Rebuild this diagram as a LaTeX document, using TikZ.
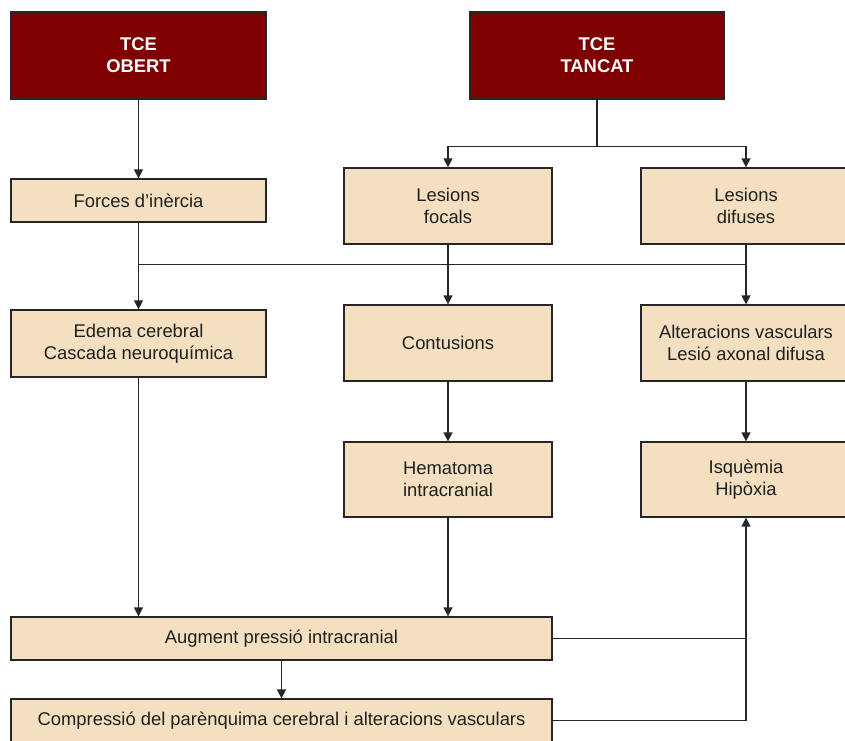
\documentclass[tikz,border=0pt]{standalone}
\usepackage{fontspec}
\setmainfont{Liberation Sans}
\usetikzlibrary{arrows.meta}
\definecolor{boxfill}{HTML}{F4E0C0}
\definecolor{darkred}{HTML}{7F0000}
\definecolor{linec}{HTML}{262626}
\begin{document}
\begin{tikzpicture}[x=1pt,y=-1pt,
  box/.style={draw=linec, fill=boxfill, line width=1.3pt, inner sep=0pt, align=center,
    text=black!88, font=\fontsize{18.4}{22}\selectfont},
  topbox/.style={box, fill=darkred, text=white, font=\bfseries\fontsize{18.4}{22}\selectfont},
  conn/.style={draw=linec, line width=1.4pt},
  arr/.style={conn, -{Triangle[length=9pt,width=9pt]}}]
\useasboundingbox (0,0) rectangle (845,740);
\clip (0,0) rectangle (845,740);
\node[topbox, minimum width=255pt, minimum height=87pt] (obert) at (138.5,55.5) {TCE\\OBERT};
\node[topbox, minimum width=254pt, minimum height=87pt] (tancat) at (597,55.5) {TCE\\TANCAT};
\node[box, minimum width=255pt, minimum height=43pt] (forces) at (138.5,200.5) {Forces d’inèrcia};
\node[box, minimum width=208pt, minimum height=76pt] (focals) at (448,206) {Lesions\\focals};
\node[box, minimum width=210pt, minimum height=76pt] (difuses) at (746,206) {Lesions\\difuses};
\node[box, minimum width=255pt, minimum height=67pt] (edema) at (138.5,343.5) {Edema cerebral\\Cascada neuroquímica};
\node[box, minimum width=208pt, minimum height=76pt] (contusions) at (448,343) {Contusions};
\node[box, minimum width=210pt, minimum height=76pt] (alter) at (746,343) {Alteracions vasculars\\Lesió axonal difusa};
\node[box, minimum width=208pt, minimum height=75pt] (hematoma) at (448,479.5) {Hematoma\\intracranial};
\node[box, minimum width=210pt, minimum height=75pt] (isq) at (746,479.5) {Isquèmia\\Hipòxia};
\node[box, minimum width=541pt, minimum height=43pt] (augment) at (281.5,638.5) {Augment pressió intracranial};
\node[box, minimum width=541pt, minimum height=43pt] (compr) at (281.5,720.5) {Compressió del parènquima cerebral i alteracions vasculars};

\draw[arr] (obert) -- (forces);
\draw[conn] (tancat.south) -- ++(0,47) coordinate (j1);
\draw[arr] (j1) -| (focals.north);
\draw[arr] (j1) -| (difuses.north);
\draw[conn] (forces.south) -- ++(0,42) coordinate (j2);
\draw[arr] (j2) -- (edema.north);
\draw[conn] (j2) -- (j2 -| difuses.south);
\draw[arr] (focals) -- (contusions);
\draw[arr] (difuses) -- (alter);
\draw[arr] (edema.south) -- (edema.south |- augment.north);
\draw[arr] (contusions) -- (hematoma);
\draw[arr] (hematoma.south) -- (hematoma.south |- augment.north);
\draw[arr] (alter) -- (isq);
\draw[arr] (augment.south -| compr.north) -- (compr.north);
\draw[conn] (augment.east) -- (augment.east -| isq.south);
\draw[arr] (compr.east) -| (isq.south);
\end{tikzpicture}
\end{document}
